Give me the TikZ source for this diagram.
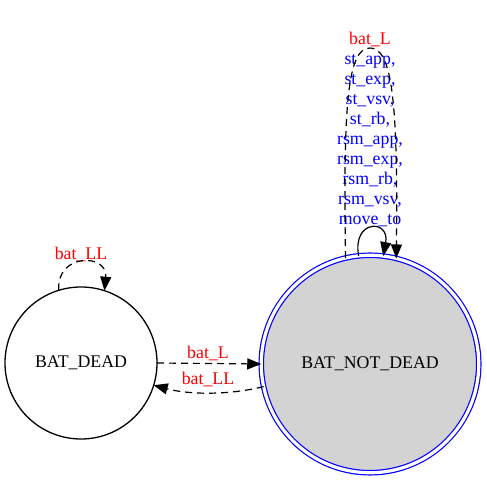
\documentclass[tikz,border=0pt]{standalone}
\usepackage{fontspec}
\setmainfont{Liberation Serif}
\usetikzlibrary{arrows.meta}
\definecolor{nodegray}{gray}{0.827}
\tikzset{
  state/.style={circle, draw, line width=1.3pt, inner sep=0pt, outer sep=0pt, font=\fontsize{17.8}{20}\selectfont},
  accept/.style={state, draw=blue, fill=nodegray, double, double distance=3.2pt, line width=1.2pt},
  edgelabel/.style={inner sep=0pt, align=center, font=\fontsize{17.8}{20}\selectfont},
  conn/.style={line width=1.2pt, -{Triangle[length=14pt,width=11pt]}},
  dashconn/.style={conn, dash pattern=on 7pt off 5pt},
}
\begin{document}
\begin{tikzpicture}[x=1pt,y=1pt]
\useasboundingbox (0,0) rectangle (487,481);
\node[state, minimum size=152pt] (dead) at (81,118) {BAT\_DEAD};
\node[accept, minimum size=217.5pt] (notdead) at (370,117) {BAT\_NOT\_DEAD};
% labels
\node[edgelabel, text=red] (lbll) at (81,227) {bat\_LL};
\node[edgelabel, text=red] (lbl) at (208,128) {bat\_L};
\node[edgelabel, text=red] (lbll2) at (208,102) {bat\_LL};
\node[edgelabel, text=blue] (lloop) at (370,352) {\textcolor{red}{bat\_L}\\st\_app,\\st\_exp,\\st\_vsv,\\st\_rb,\\rsm\_app,\\rsm\_exp,\\rsm\_rb,\\rsm\_vsv,\\move\_to};
% edges
\draw[dashconn] (dead.0) -- (notdead.180);
\draw[dashconn] (notdead.192.5) .. controls (230,86) and (190,86) .. (dead.-17);
\draw[dashconn] (dead.107) .. controls (56,228) and (108,228) .. (dead.72);
\draw[conn] (notdead.96.7) .. controls (352,262) and (390,262) .. (notdead.83.3);
\draw[dashconn] (notdead.103.7) .. controls (343,380) and (348,433) .. (370,433)
  .. controls (392,433) and (398,380) .. (notdead.76);
\end{tikzpicture}
\end{document}
